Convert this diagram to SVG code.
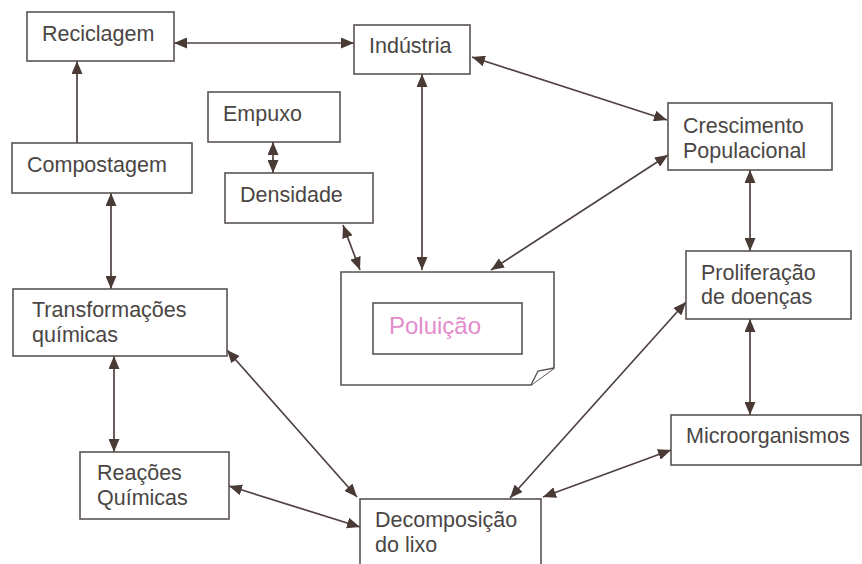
<svg xmlns="http://www.w3.org/2000/svg" width="862" height="564" viewBox="0 0 862 564">
<style>
.box{fill:#fff;stroke:#5a5350;stroke-width:1.6}
.t{font-family:"Liberation Sans",Arial,sans-serif;font-size:21.5px;fill:#4a4644}
.c{fill:none;stroke:#4e4240;stroke-width:1.7;marker-end:url(#ah);marker-start:url(#ah)}
.one{marker-start:none}
</style>
<defs>
<marker id="ah" viewBox="0 0 13 11" refX="13" refY="5.5" markerWidth="13" markerHeight="11" markerUnits="userSpaceOnUse" orient="auto-start-reverse">
<path d="M0,0 L13,5.5 L0,11 Z" fill="#4a3a36"/>
</marker>
</defs>
<rect width="862" height="564" fill="#fff"/>
<g id="connectors">
<line class="c" x1="174" y1="43" x2="354" y2="43"/>
<line class="c one" x1="77" y1="143" x2="77" y2="61"/>
<line class="c" x1="111" y1="193" x2="111" y2="289"/>
<line class="c" x1="273" y1="142" x2="273" y2="173"/>
<line class="c" x1="343" y1="225" x2="360" y2="270"/>
<line class="c" x1="422" y1="74" x2="422" y2="270"/>
<line class="c" x1="472" y1="57" x2="667" y2="120"/>
<line class="c" x1="668" y1="155" x2="491" y2="270"/>
<line class="c" x1="750" y1="170" x2="750" y2="251"/>
<line class="c" x1="750" y1="319" x2="750" y2="415"/>
<line class="c" x1="686" y1="302" x2="510" y2="498"/>
<line class="c" x1="671" y1="450" x2="543" y2="497"/>
<line class="c" x1="114" y1="356" x2="114" y2="452"/>
<line class="c" x1="227" y1="350" x2="357" y2="497"/>
<line class="c" x1="229" y1="486" x2="360" y2="527"/>
</g>
<g id="reciclagem"><rect class="box" x="27" y="12" width="147" height="49"/><text class="t" x="42" y="41">Reciclagem</text></g>
<g id="industria"><rect class="box" x="354" y="25" width="116" height="49"/><text class="t" x="369" y="53">Indústria</text></g>
<g id="empuxo"><rect class="box" x="208" y="92" width="132" height="50"/><text class="t" x="223" y="121">Empuxo</text></g>
<g id="compostagem"><rect class="box" x="12" y="143" width="180" height="50"/><text class="t" x="27" y="172">Compostagem</text></g>
<g id="densidade"><rect class="box" x="225" y="173" width="148" height="50"/><text class="t" x="240" y="202">Densidade</text></g>
<g id="crescimento"><rect class="box" x="668" y="103" width="164" height="67"/><text class="t" x="683" y="133">Crescimento</text><text class="t" x="683" y="158">Populacional</text></g>
<g id="poluicao">
<path class="box" d="M341,272 L554,272 L554,368 L531,385 L341,385 Z"/>
<path d="M554,368 L538,371 L531,385" fill="#fff" stroke="#5a5350" stroke-width="1.4"/>
<rect class="box" x="373" y="303" width="149" height="51"/>
<text x="389" y="334" style="font-family:'Liberation Sans',Arial,sans-serif;font-size:24px;fill:#e38ccc">Poluição</text>
</g>
<g id="transformacoes"><rect class="box" x="13" y="289" width="214" height="67"/><text class="t" x="32" y="317">Transformações</text><text class="t" x="32" y="342">químicas</text></g>
<g id="proliferacao"><rect class="box" x="686" y="251" width="165" height="68"/><text class="t" x="701" y="280">Proliferação</text><text class="t" x="701" y="304">de doenças</text></g>
<g id="microorganismos"><rect class="box" x="671" y="415" width="190" height="50"/><text class="t" x="686" y="443">Microorganismos</text></g>
<g id="reacoes"><rect class="box" x="80" y="452" width="149" height="67"/><text class="t" x="97" y="480">Reações</text><text class="t" x="97" y="505">Químicas</text></g>
<g id="decomposicao"><rect class="box" x="360" y="499" width="181" height="80"/><text class="t" x="375" y="527">Decomposição</text><text class="t" x="375" y="552">do lixo</text></g>
</svg>
